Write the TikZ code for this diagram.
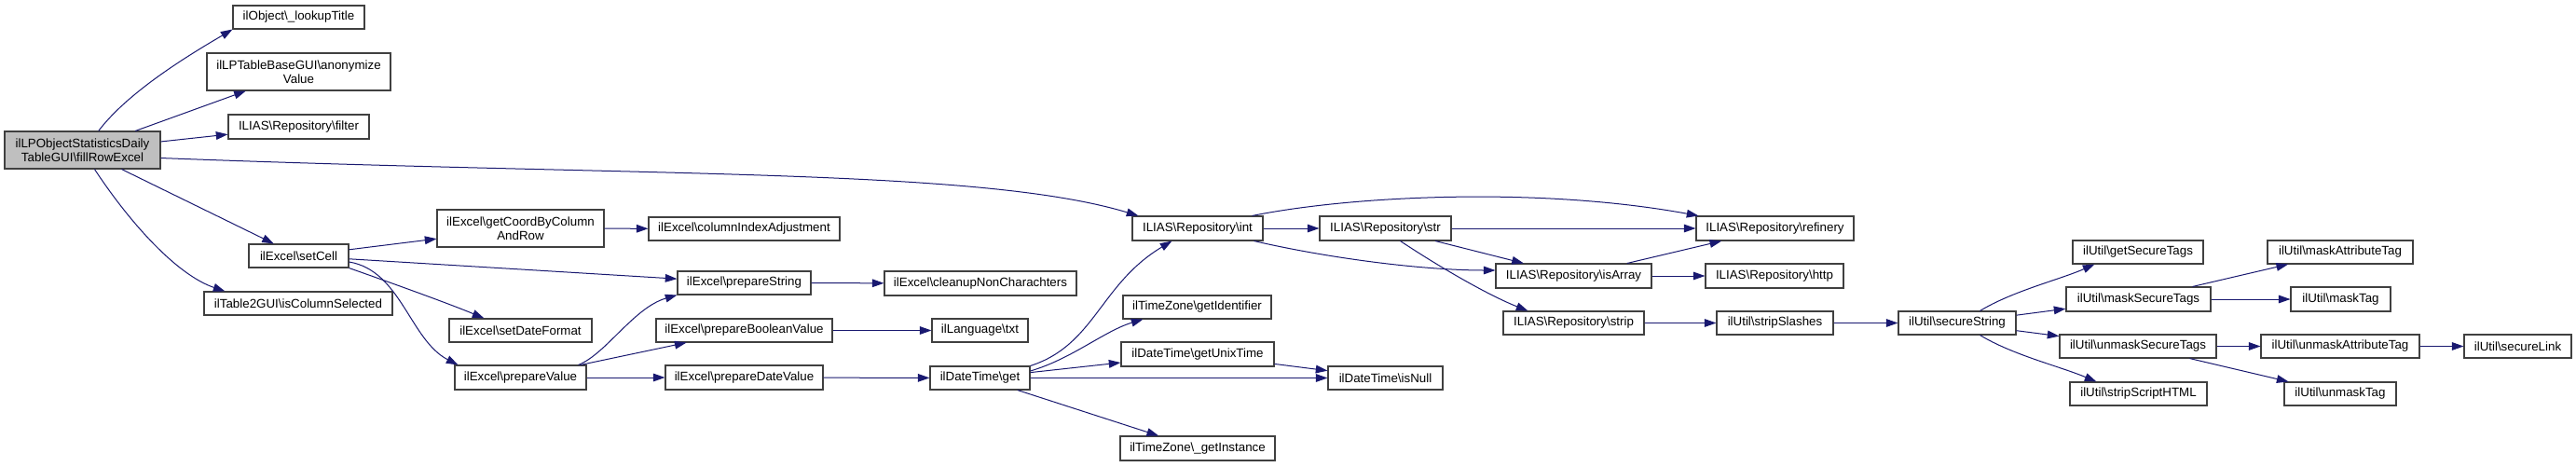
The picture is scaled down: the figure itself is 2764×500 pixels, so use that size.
\documentclass[tikz,border=0pt]{standalone}
\usepackage{fontspec}
\setmainfont{Liberation Sans}
\usetikzlibrary{arrows.meta,calc}
\definecolor{edgec}{HTML}{191970}
\definecolor{bordc}{HTML}{404040}
\definecolor{rootc}{HTML}{BFBFBF}
\newcommand{\mybs}{\textbackslash}
\newcommand{\gn}[7][]{\node[gbox,#1,minimum width={(#5-#3)*0.75pt},minimum height={(#6-#4)*0.75pt}] (#2) at ({(#3+#5)/2},{(#4+#6)/2}) {#7};}
\tikzset{
  gbox/.style={draw=bordc,fill=white,line width=0.8pt,inner sep=0pt,align=center,
    font=\fontsize{10}{11.3}\selectfont},
  edg/.style={draw=edgec,line width=0.75pt,-{Triangle[length=9.5pt,width=6.5pt]}}
}
\begin{document}
\begin{tikzpicture}[x=0.75pt,y=-0.75pt]
\useasboundingbox (0,0) rectangle (2764,500);
\fill[white] (0,0) rectangle (2764,500);
% nodes
\gn[fill=rootc]{root}{5}{141}{172}{181}{ilLPObjectStatisticsDaily\\TableGUI\mybs fillRowExcel}
\gn{lookupTitle}{250}{6}{391}{31}{ilObject\mybs\_lookupTitle}
\gn{anonymize}{222}{57}{419}{97}{ilLPTableBaseGUI\mybs anonymize\\Value}
\gn{filter}{245}{123}{396}{149}{ILIAS\mybs Repository\mybs filter}
\gn{setCell}{267}{262}{374}{287}{ilExcel\mybs setCell}
\gn{isColSel}{219}{313}{421}{338}{ilTable2GUI\mybs isColumnSelected}
\gn{getCoord}{469}{225}{648}{265}{ilExcel\mybs getCoordByColumn\\AndRow}
\gn{colIdx}{696}{233}{901}{258}{ilExcel\mybs columnIndexAdjustment}
\gn{prepStr}{727}{291}{870}{316}{ilExcel\mybs prepareString}
\gn{setDateFmt}{482}{342}{635}{367}{ilExcel\mybs setDateFormat}
\gn{prepBool}{704}{342}{893}{367}{ilExcel\mybs prepareBooleanValue}
\gn{prepVal}{488}{392}{629}{418}{ilExcel\mybs prepareValue}
\gn{prepDate}{714}{392}{883}{418}{ilExcel\mybs prepareDateValue}
\gn{cleanup}{949}{291}{1155}{317}{ilExcel\mybs cleanupNonCharachters}
\gn{txt}{1000}{342}{1103}{367}{ilLanguage\mybs txt}
\gn{get}{998}{393}{1105}{418}{ilDateTime\mybs get}
\gn{int}{1215}{232}{1355}{258}{ILIAS\mybs Repository\mybs int}
\gn{str}{1416}{232}{1557}{258}{ILIAS\mybs Repository\mybs str}
\gn{getIdent}{1205}{317}{1364}{342}{ilTimeZone\mybs getIdentifier}
\gn{getUnix}{1203}{367}{1367}{393}{ilDateTime\mybs getUnixTime}
\gn{isNull}{1425}{393}{1548}{418}{ilDateTime\mybs isNull}
\gn{getInst}{1202}{468}{1368}{494}{ilTimeZone\mybs\_getInstance}
\gn{refinery}{1820}{232}{1989}{258}{ILIAS\mybs Repository\mybs refinery}
\gn{isArray}{1605}{283}{1772}{309}{ILIAS\mybs Repository\mybs isArray}
\gn{http}{1830}{283}{1978}{309}{ILIAS\mybs Repository\mybs http}
\gn{strip}{1613}{334}{1764}{359}{ILIAS\mybs Repository\mybs strip}
\gn{stripSlashes}{1842}{334}{1967}{359}{ilUtil\mybs stripSlashes}
\gn{secureString}{2037}{334}{2163}{359}{ilUtil\mybs secureString}
\gn{getSecTags}{2224}{258}{2364}{283}{ilUtil\mybs getSecureTags}
\gn{maskSecTags}{2217}{308}{2372}{334}{ilUtil\mybs maskSecureTags}
\gn{unmaskSecTags}{2210}{359}{2378}{384}{ilUtil\mybs unmaskSecureTags}
\gn{stripScript}{2221}{410}{2368}{435}{ilUtil\mybs stripScriptHTML}
\gn{maskAttr}{2433}{258}{2589}{283}{ilUtil\mybs maskAttributeTag}
\gn{maskTag}{2458}{308}{2565}{334}{ilUtil\mybs maskTag}
\gn{unmaskAttr}{2426}{359}{2596}{384}{ilUtil\mybs unmaskAttributeTag}
\gn{secureLink}{2644}{359}{2759}{384}{ilUtil\mybs secureLink}
\gn{unmaskTag}{2451}{410}{2571}{435}{ilUtil\mybs unmaskTag}
% edges
\draw[edg] (root.50) .. controls (140,95) and (215,52) .. (lookupTitle.south west);
\draw[edg] (root) -- (anonymize);
\draw[edg] (root) -- (filter);
\draw[edg] ($(root.south east)+(0,-12)$) .. controls (700,190) and (1050,180) .. ($(int.north west)+(7,0)$);
\draw[edg] (root) -- (setCell);
\draw[edg] ($(root.south west)+(97,0)$) .. controls (140,240) and (190,295) .. ($(isColSel.north west)+(23,0)$);
\draw[edg] (setCell) -- (getCoord);
\draw[edg] (setCell) -- (prepStr);
\draw[edg] (setCell.south east) .. controls (410,300) and (480,325) .. ($(setDateFmt.north west)+(38,0)$);
\draw[edg] ($(setCell.east)+(0,6.5)$) .. controls (430,290) and (440,365) .. ($(prepVal.north west)+(4,0)$);
\draw[edg] (getCoord) -- (colIdx);
\draw[edg] ($(prepVal.north east)+(-9,0)$) .. controls (650,380) and (680,330) .. (prepStr.south west);
\draw[edg] (prepVal) -- (prepBool);
\draw[edg] (prepVal) -- (prepDate);
\draw[edg] (prepStr) -- (cleanup);
\draw[edg] (prepBool) -- (txt);
\draw[edg] (prepDate) -- (get);
\draw[edg] (get.north east) .. controls (1175,370) and (1180,305) .. ($(int.south west)+(43,0)$);
\draw[edg] ($(get.east)+(0,-7.5)$) .. controls (1150,385) and (1185,355) .. ($(getIdent.south west)+(22,0)$);
\draw[edg] (get) -- (getUnix);
\draw[edg] (get) -- (isNull);
\draw[edg] (get) -- (getInst);
\draw[edg] (getUnix) -- (isNull);
\draw[edg] (int) -- (str);
\draw[edg] ($(int.north east)+(-12,0)$) .. controls (1450,210) and (1650,200) .. ($(refinery.north west)+(3,0)$);
\draw[edg] ($(int.south east)+(-10,0)$) .. controls (1430,278) and (1530,290) .. ($(isArray.west)+(0,-6)$);
\draw[edg] (str) -- (refinery);
\draw[edg] (str) -- (isArray);
\draw[edg] ($(str.south west)+(87,0)$) .. controls (1550,290) and (1600,318) .. ($(strip.north west)+(27,0)$);
\draw[edg] (isArray) -- (refinery);
\draw[edg] (isArray) -- (http);
\draw[edg] (strip) -- (stripSlashes);
\draw[edg] (stripSlashes) -- (secureString);
\draw[edg] ($(secureString.north west)+(88,0)$) .. controls (2160,312) and (2210,300) .. ($(getSecTags.south west)+(24,0)$);
\draw[edg] (secureString) -- (maskSecTags);
\draw[edg] (secureString) -- (unmaskSecTags);
\draw[edg] ($(secureString.south west)+(88,0)$) .. controls (2160,381) and (2210,393) .. ($(stripScript.north west)+(29,0)$);
\draw[edg] (maskSecTags) -- (maskAttr);
\draw[edg] (maskSecTags) -- (maskTag);
\draw[edg] (unmaskSecTags) -- (unmaskAttr);
\draw[edg] (unmaskSecTags) -- (unmaskTag);
\draw[edg] (unmaskAttr) -- (secureLink);
\end{tikzpicture}
\end{document}
